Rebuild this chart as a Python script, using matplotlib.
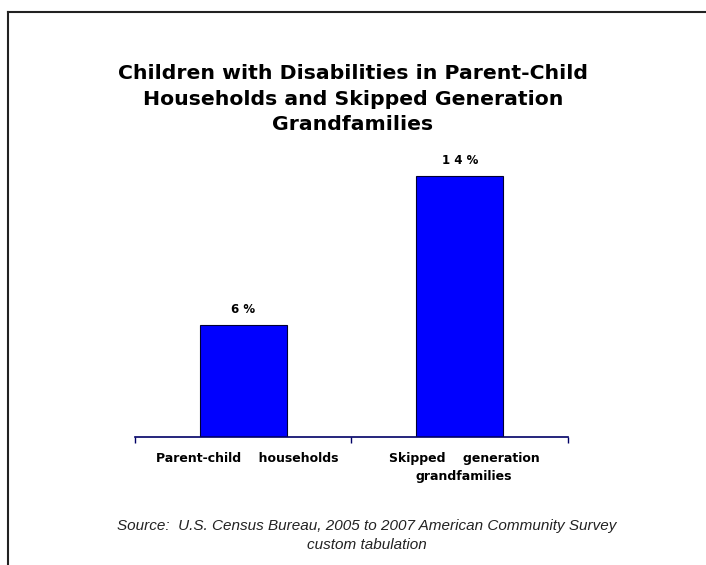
import matplotlib.pyplot as plt
from matplotlib.lines import Line2D

# data
categories = ["Parent-child    households", "Skipped    generation\ngrandfamilies"]
values = [6, 14]
value_labels = ["6 %", "1 4 %"]

title = ("Children with Disabilities in Parent-Child\n"
         "Households and Skipped Generation\n"
         "Grandfamilies")
source = ("Source:  U.S. Census Bureau, 2005 to 2007 American Community Survey\n"
          "custom tabulation")

plt.rc("font", family=["Liberation Sans", "DejaVu Sans"])

fig = plt.figure(figsize=(7.06, 5.65), dpi=100)
ax = fig.add_axes([0.1912, 0.2265, 0.6133, 0.5274])

x = list(range(len(values)))
ax.bar(x, values, width=0.4, color="#0000ff", edgecolor="#000033", linewidth=0.8, zorder=2)
for xi, v, lab in zip(x, values, value_labels):
    ax.text(xi, v + 0.5, lab, ha="center", va="bottom", fontsize=8.5,
            fontweight="bold", family="DejaVu Sans")

ax.set_xlim(-0.5, 1.5)
ax.set_ylim(0, 16)
ax.set_yticks([])
ax.set_xticks([-0.5, 0.5, 1.5])
ax.set_xticklabels([])
ax.tick_params(axis="x", direction="out", length=4, color="#000066", width=1)
for s in ["top", "left", "right"]:
    ax.spines[s].set_visible(False)
ax.spines["bottom"].set_color("#000066")
ax.spines["bottom"].set_linewidth(1.2)
ax.patch.set_alpha(0)

for xi, cat in zip(x, categories):
    ax.text(xi + 0.02, -0.8, cat, ha="center", va="top", fontsize=9,
            fontweight="bold", family="DejaVu Sans", linespacing=1.55)

fig.text(0.5, 0.886, title, ha="center", va="top", fontsize=14.7, fontweight="bold",
         family="DejaVu Sans", linespacing=1.42)
fig.text(0.519, 0.052, source, ha="center", va="center", fontsize=11, style="italic",
         color="#222222", linespacing=1.45)

# frame lines (top and left)
fig.add_artist(Line2D([0.0113, 1.0], [0.979, 0.979], color="#222222", lw=1.5))
fig.add_artist(Line2D([0.0113, 0.0113], [0.0, 0.979], color="#222222", lw=1.5))

fig.savefig("out.png", dpi=100)
